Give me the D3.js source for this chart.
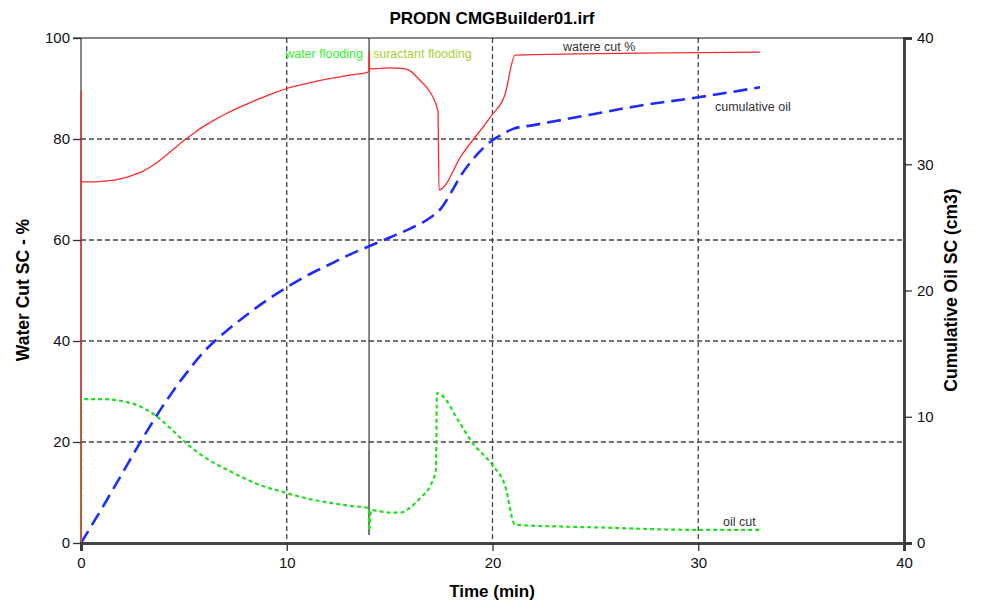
<!DOCTYPE html>
<html>
<head>
<meta charset="utf-8">
<script src="https://cdn.jsdelivr.net/npm/d3@7"></script>
<style>
  body { margin: 0; background: #fff; }
  svg { display: block; font-family: "Liberation Sans", Arial, sans-serif; }
</style>
</head>
<body>
<svg id="chart" width="984" height="607"></svg>
<script>
// water cut % (left axis)
const waterCut = [
  [0, 0], [0.001, 89.5], [0.002, 71.5], [0.5, 71.5], [1, 71.6], [1.5, 71.8], [2, 72.2],
  [2.5, 72.8], [3, 73.6], [3.5, 74.8], [4, 76.3], [4.5, 78], [5, 79.7], [5.5, 81.2],
  [6, 82.6], [6.5, 83.8], [7, 84.9], [7.5, 85.9], [8, 86.8], [8.5, 87.7], [9, 88.5],
  [9.5, 89.3], [10, 90], [11, 91], [12, 91.9], [13, 92.6], [13.99, 93.3], [14, 97.6],
  [14.03, 93.9], [15, 94.1], [15.6, 94], [16, 93.5], [16.5, 91.5], [16.8, 90.2],
  [17.35, 85.5], [17.4, 69.9], [18.5, 76.8], [19.9, 84.4], [20.6, 88.7], [21.1, 96.6],
  [25, 96.9], [30, 97.1], [33, 97.2]
]
// oil cut % (left axis)
const oilCut = [
  [0, 0], [0.001, 28.5], [1, 28.5], [2, 28.1], [3, 26.8], [3.7, 25], [4.4, 22.5], [5.1, 19.8],
  [6, 17], [7.4, 13.9], [8.5, 11.8], [10, 9.9], [11, 8.8], [12.2, 7.9], [13, 7.4], [13.99, 6.9],
  [14, 2.5], [14.1, 6.5], [15, 6], [15.5, 6], [16, 7], [16.5, 9], [17, 11.5], [17.25, 14.5],
  [17.3, 29.7], [17.6, 29], [18.3, 24.5], [19, 20], [20, 15.4], [20.6, 11.5], [21.1, 3.6],
  [25, 3.1], [30, 2.6], [33, 2.6]
]
// cumulative oil cm3 (right axis)
const cumOil = [
  [0, 0], [1, 2.7], [2, 5.5], [3, 8.3], [4, 10.9], [5, 13.2], [6, 15.2], [7, 16.7],
  [8, 18.0], [9, 19.2], [10, 20.25], [11, 21.2], [12, 22.0], [13, 22.8], [14, 23.5],
  [15, 24.2], [16, 24.9], [17, 25.8], [17.5, 26.5], [18, 27.8], [18.5, 29.2], [19, 30.3],
  [19.5, 31.2], [20, 31.9], [20.5, 32.4], [21, 32.8], [22, 33.1], [23, 33.4], [25, 34.0],
  [27, 34.6], [30, 35.3], [33, 36.1]
]
const xTicks = [0, 10, 20, 30, 40]
const leftTicks = [0, 20, 40, 60, 80, 100]
const rightTicks = [0, 10, 20, 30, 40]
const markerTime = 14

const svg = d3.select('#chart')
const m = { left: 81, right: 904, top: 38, bottom: 543 }

const x = d3.scaleLinear().domain([0, 40]).range([m.left, m.right])
const yL = d3.scaleLinear().domain([0, 100]).range([m.bottom, m.top])
const yR = d3.scaleLinear().domain([0, 40]).range([m.bottom, m.top])

// 网格
const grid = svg.append('g')
grid.selectAll('line.h').data([20, 40, 60, 80]).enter().append('line')
  .attr('x1', m.left).attr('x2', m.right)
  .attr('y1', d => yL(d)).attr('y2', d => yL(d))
  .attr('stroke', '#444').attr('stroke-width', 1.3).attr('stroke-dasharray', '5,3')
grid.selectAll('line.v').data([10, 20, 30]).enter().append('line')
  .attr('x1', d => x(d)).attr('x2', d => x(d))
  .attr('y1', m.top).attr('y2', m.bottom)
  .attr('stroke', '#444').attr('stroke-width', 1.3).attr('stroke-dasharray', '5,3')

// 边框
svg.append('line').attr('x1', m.left - 8).attr('x2', m.right)
  .attr('y1', m.top).attr('y2', m.top).attr('stroke', '#111').attr('stroke-width', 1)
svg.append('line').attr('x1', m.left).attr('x2', m.left)
  .attr('y1', m.top).attr('y2', m.bottom).attr('stroke', '#111').attr('stroke-width', 1)

// marker line at t=14
svg.append('line').attr('x1', x(markerTime)).attr('x2', x(markerTime))
  .attr('y1', m.top).attr('y2', 535).attr('stroke', '#111').attr('stroke-width', 1)
svg.append('line').attr('x1', x(markerTime)).attr('x2', x(markerTime))
  .attr('y1', 450).attr('y2', 535).attr('stroke', '#777').attr('stroke-width', 2)

const line = (ys) => d3.line().x(d => x(d[0])).y(d => ys(d[1])).curve(d3.curveMonotoneX)

svg.append('path').datum(cumOil)
  .attr('d', line(yR))
  .attr('fill', 'none').attr('stroke', '#1f2cff').attr('stroke-width', 2.6)
  .attr('stroke-dasharray', '14,7')
svg.append('path').datum(oilCut)
  .attr('d', line(yL))
  .attr('fill', 'none').attr('stroke', '#22dd22').attr('stroke-width', 2.2)
  .attr('stroke-dasharray', '4,3')
svg.append('path').datum(waterCut)
  .attr('d', line(yL))
  .attr('fill', 'none').attr('stroke', '#ff2a2a').attr('stroke-width', 1.3)

// 坐标轴
const axB = svg.append('g').attr('transform', `translate(0,${m.bottom})`)
  .call(d3.axisBottom(x).tickValues(xTicks).tickSize(8).tickPadding(6))
const axL = svg.append('g').attr('transform', `translate(${m.left},0)`)
  .call(d3.axisLeft(yL).tickValues(leftTicks).tickSize(8).tickPadding(3))
const axR = svg.append('g').attr('transform', `translate(${m.right},0)`)
  .call(d3.axisRight(yR).tickValues(rightTicks).tickSize(8).tickPadding(5))
;[axB, axL, axR].forEach(a => {
  a.selectAll('text').attr('font-size', 15).attr('fill', '#111')
    .attr('font-family', '"Liberation Sans", Arial, sans-serif')
  a.selectAll('line').attr('stroke', '#333').attr('stroke-width', 1.3)
})
axB.select('.domain').attr('stroke', '#444').attr('stroke-width', 3)
axR.select('.domain').attr('stroke', '#444').attr('stroke-width', 3)
axL.select('.domain').remove()

// 标题
svg.append('text').attr('x', 492).attr('y', 24).attr('text-anchor', 'middle')
  .attr('font-size', 17).attr('font-weight', 'bold').text('PRODN CMGBuilder01.irf')
svg.append('text').attr('x', 492).attr('y', 597).attr('text-anchor', 'middle')
  .attr('font-size', 17).attr('font-weight', 'bold').text('Time (min)')
svg.append('text').attr('transform', 'translate(29,290) rotate(-90)')
  .attr('text-anchor', 'middle').attr('font-size', 17.5).attr('font-weight', 'bold')
  .text('Water Cut SC - %')
svg.append('text').attr('transform', 'translate(957,290) rotate(-90)')
  .attr('text-anchor', 'middle').attr('font-size', 17.5).attr('font-weight', 'bold')
  .text('Cumulative Oil SC (cm3)')

// 标注
const labels = [
  { t: 'water flooding', x: 363, y: 58, anchor: 'end', color: '#33ee33' },
  { t: 'suractant flooding', x: 373, y: 58, anchor: 'start', color: '#a8d030' },
  { t: 'watere cut %', x: 563, y: 51, anchor: 'start', color: '#333' },
  { t: 'cumulative oil', x: 715, y: 111, anchor: 'start', color: '#333' },
  { t: 'oil cut', x: 723, y: 526, anchor: 'start', color: '#333' }
]
svg.selectAll('text.lbl').data(labels).enter().append('text')
  .attr('class', 'lbl')
  .attr('x', d => d.x).attr('y', d => d.y)
  .attr('text-anchor', d => d.anchor)
  .attr('font-size', 12.5).attr('fill', d => d.color)
  .text(d => d.t)
</script>
</body>
</html>
